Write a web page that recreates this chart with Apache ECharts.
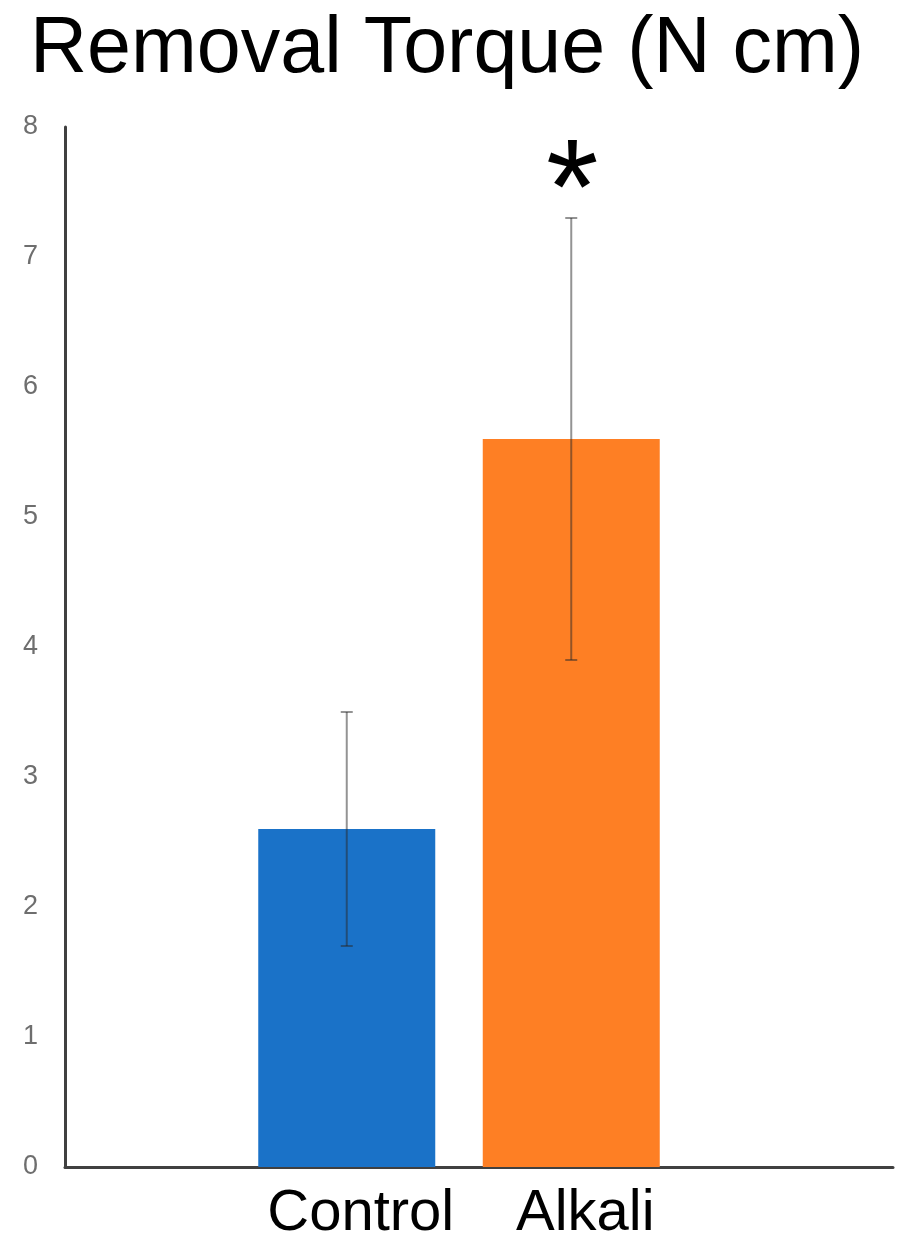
<!DOCTYPE html>
<html>
<head>
<meta charset="utf-8">
<script src="https://cdn.jsdelivr.net/npm/echarts@6/dist/echarts.min.js"></script>
<style>
html,body{margin:0;padding:0;background:#fff;}
#chart{width:914px;height:1252px;}
</style>
</head>
<body>
<div id="chart"></div>
<script>
var categories = ['Control', 'Alkali'];
var means = [2.6, 5.6];
var errLow = [1.7, 3.9];
var errHigh = [3.5, 7.3];
var marks = ['', '*'];
var barColors = ['#1a72c8', '#fe7f24'];
var yTicks = [0, 1, 2, 3, 4, 5, 6, 7, 8];

var chart = echarts.init(document.getElementById('chart'), null, {renderer: 'canvas'});
var font = '"Liberation Sans", Arial, sans-serif';

var option = {
  backgroundColor: '#fff',
  animation: false,
  title: {
    text: 'Removal Torque (N cm)',
    left: 25,
    top: 6,
    textStyle: {fontFamily: font, fontSize: 79, fontWeight: 'normal', color: '#000'}
  },
  grid: [
    {left: 65, right: 21, top: 127, bottom: 85},
    {left: 234.5, width: 449, top: 127, bottom: 85}
  ],
  xAxis: [
    {
      type: 'category', gridIndex: 0, data: [''],
      axisLine: {show: true, lineStyle: {color: '#404040', width: 3}},
      axisTick: {show: false}, axisLabel: {show: false}, splitLine: {show: false}
    },
    {
      type: 'category', gridIndex: 1, data: categories,
      axisLine: {show: false}, axisTick: {show: false},
      axisLabel: {
        show: true, interval: 0, hideOverlap: false, margin: 18, color: '#000',
        fontFamily: font, fontSize: 58,
        padding: [0, 0, 0, 28]
      }
    }
  ],
  yAxis: [
    {
      type: 'value', gridIndex: 0, min: 0, max: 8, interval: 1,
      axisLine: {show: true, lineStyle: {color: '#404040', width: 3}},
      axisTick: {show: false}, splitLine: {show: false},
      axisLabel: {
        margin: 27, color: '#6e6e6e', fontFamily: font, fontSize: 27,
        formatter: function (v) { return yTicks.indexOf(v) >= 0 ? String(v) : ''; }
      }
    },
    {
      type: 'value', gridIndex: 1, min: 0, max: 8, interval: 1,
      axisLine: {show: false}, axisTick: {show: false}, splitLine: {show: false},
      axisLabel: {show: false}
    }
  ],
  series: [
    {
      type: 'bar', xAxisIndex: 1, yAxisIndex: 1,
      barWidth: 177,
      data: means.map(function (v, i) { return {value: v, itemStyle: {color: barColors[i]}}; })
    },
    {
      type: 'custom', xAxisIndex: 1, yAxisIndex: 1,
      z: 10,
      data: categories.map(function (c, i) { return [i, errLow[i], errHigh[i]]; }),
      renderItem: function (params, api) {
        var i = api.value(0);
        var lo = api.coord([i, api.value(1)]);
        var hi = api.coord([i, api.value(2)]);
        var cap = 6;
        var st = {stroke: 'rgba(40,40,40,0.5)', lineWidth: 2};
        var children = [
          {type: 'line', shape: {x1: lo[0], y1: lo[1], x2: hi[0], y2: hi[1]}, style: st},
          {type: 'line', shape: {x1: lo[0] - cap, y1: lo[1], x2: lo[0] + cap, y2: lo[1]}, style: st},
          {type: 'line', shape: {x1: hi[0] - cap, y1: hi[1], x2: hi[0] + cap, y2: hi[1]}, style: st}
        ];
        if (marks[i]) {
          children.push({
            type: 'text',
            style: {
              text: marks[i], x: hi[0] + 1, y: hi[1] + 45,
              align: 'center', verticalAlign: 'bottom',
              fontFamily: font, fontSize: 135, fill: '#000'
            }
          });
        }
        return {type: 'group', children: children};
      }
    }
  ]
};
chart.setOption(option);
</script>
</body>
</html>
